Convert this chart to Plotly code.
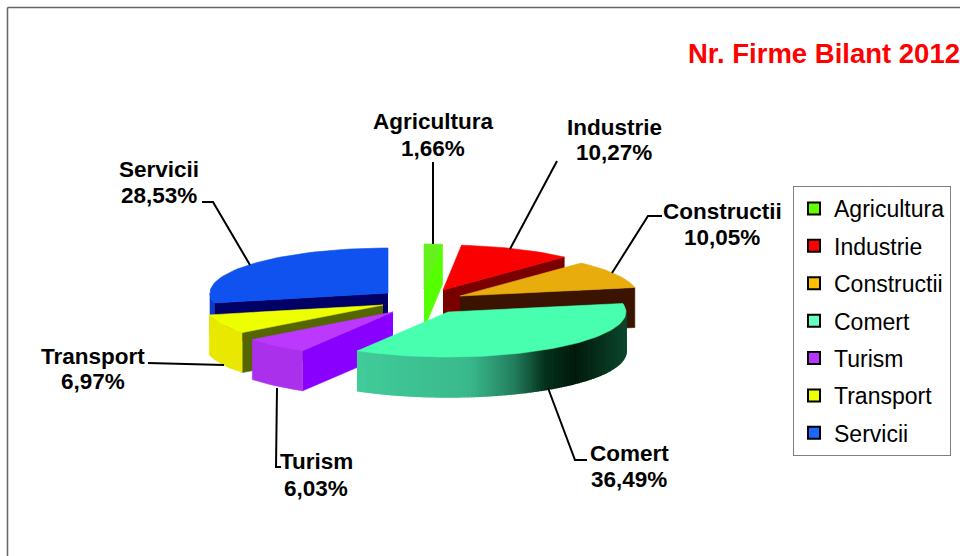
import numpy as np
import plotly.graph_objects as go

# ---- data ----
categories = ["Agricultura", "Industrie", "Constructii", "Comert", "Turism", "Transport", "Servicii"]
percent = [1.66, 10.27, 10.05, 36.49, 6.03, 6.97, 28.53]
percent_labels = ["1,66%", "10,27%", "10,05%", "36,49%", "6,03%", "6,97%", "28,53%"]
title_text = "Nr. Firme Bilant 2012"

# ---- styles ----
top_colors = ["#66F01E", "#FA0000", "#E8AC0C", "#48FFB0", "#BC38FF", "#EEFF00", "#0F52F0"]
legend_colors = ["#66FF00", "#FF0000", "#FFC000", "#66FFC0", "#BB33FF", "#EEFF00", "#1F66FF"]
side_colors = ["#55FF00", "#7A0000", "#3A1400", "#3CC090", "#8A00FF", "#556600", "#000066"]
arc_colors = ["#55FF00", "#7A0000", "#3A1400", None, "#AA30EC", "#E8E800", "#0A3ACC"]
comert_stops_x = [355, 470, 515, 545, 575, 625]
comert_stops_rgb = [(66, 205, 155), (58, 185, 140), (34, 125, 92), (5, 50, 28), (2, 26, 12), (12, 70, 44)]

# ---- geometry of the projected pie (page pixels) ----
RX, RY, DEPTH = 178, 45, 40
apex_x = [424, 443, 460, 448, 393, 383, 388]
apex_y = [289, 290, 296, 312, 312, 305, 293]
draw_order = [6, 0, 1, 2, 5, 4, 3]

label_x = [433, 614, 722, 629, 316, 93, 159]
label_y1 = [121, 127, 211, 453, 461, 356, 169]
label_y2 = [148, 152, 237, 479, 488, 381, 195]
leaders = [
    [(433, 162), (433, 244)],
    [(557, 161), (510, 249)],
    [(662, 216), (648, 216), (612, 273)],
    [(548, 388), (575, 460), (587, 460)],
    [(277, 388), (276, 467), (281, 467)],
    [(148, 363), (224, 365)],
    [(202, 202), (213, 202), (250, 265)],
]

fig = go.Figure()


def poly(xs, ys, color, lw=0.6):
    fig.add_trace(go.Scatter(
        x=list(xs), y=list(ys), mode="lines", fill="toself", fillcolor=color,
        line=dict(color=color, width=lw), hoverinfo="skip", showlegend=False))


def pt(i, deg):
    t = np.radians(deg)
    return apex_x[i] + RX * np.sin(t), apex_y[i] - RY * np.cos(t)


def radial_wall(i, deg, color):
    x, y = pt(i, deg)
    poly([apex_x[i], x, x, apex_x[i]], [apex_y[i], y, y + DEPTH, apex_y[i] + DEPTH], color)


edges = np.concatenate([[0], np.cumsum(percent)]) / sum(percent) * 360

for i in draw_order:
    a0, a1 = edges[i], edges[i + 1]
    # visible flat side faces
    if np.sin(np.radians(a0)) < -1e-6:
        radial_wall(i, a0, side_colors[i])
    if np.sin(np.radians(a1)) > 1e-6:
        radial_wall(i, a1, side_colors[i])
    # visible outer rim
    lo, hi = max(a0, 90), min(a1, 270)
    if hi > lo:
        if arc_colors[i] is None:
            ang = np.linspace(lo, hi, int(hi - lo) + 1)
            for a, b in zip(ang[:-1], ang[1:]):
                xa, ya = pt(i, a)
                xb, yb = pt(i, b)
                mid = (xa + xb) / 2
                rgb = [np.interp(mid, comert_stops_x, [c[k] for c in comert_stops_rgb]) for k in range(3)]
                col = "rgb(%d,%d,%d)" % tuple(rgb)
                poly([xa, xb, xb, xa], [ya, yb, yb + DEPTH, ya + DEPTH], col, lw=1.5)
        else:
            ang = np.linspace(lo, hi, max(2, int((hi - lo) / 2.5)) + 1)
            xs, ys = zip(*[pt(i, a) for a in ang])
            poly(list(xs) + list(xs[::-1]), list(ys) + [y + DEPTH for y in ys[::-1]], arc_colors[i])
    # top face
    ang = np.linspace(a0, a1, max(3, int((a1 - a0) / 2)))
    xs, ys = zip(*[pt(i, a) for a in ang])
    poly([apex_x[i]] + list(xs) + [apex_x[i]], [apex_y[i]] + list(ys) + [apex_y[i]], top_colors[i])

# leader lines
for seg in leaders:
    xs, ys = zip(*seg)
    fig.add_trace(go.Scatter(x=xs, y=ys, mode="lines", line=dict(color="black", width=2),
                             hoverinfo="skip", showlegend=False))

# legend entries
for name, col in zip(categories, legend_colors):
    fig.add_trace(go.Scatter(
        x=[None], y=[None], mode="markers", name=name, legendgroup=name,
        marker=dict(symbol="square", size=12, color=col, line=dict(color="black", width=2))))

ann = []
font = dict(family="Liberation Sans", size=22.5, color="black")
for i, c in enumerate(categories):
    for txt, yy in ((c, label_y1[i]), (percent_labels[i], label_y2[i])):
        ann.append(dict(x=label_x[i], y=yy, xref="x", yref="y", text="<b>%s</b>" % txt,
                        showarrow=False, xanchor="center", yanchor="middle", font=font))

shapes = [
    dict(type="line", x0=7.5, x1=960, y0=7.5, y1=7.5, xref="x", yref="y", line=dict(color="#666666", width=1.5)),
    dict(type="line", x0=7.5, x1=7.5, y0=7.5, y1=556, xref="x", yref="y", line=dict(color="#666666", width=1.5)),
]

fig.update_layout(
    width=960, height=556, margin=dict(l=0, r=0, t=0, b=0),
    paper_bgcolor="white", plot_bgcolor="white",
    xaxis=dict(range=[0, 960], visible=False, fixedrange=True),
    yaxis=dict(range=[556, 0], visible=False, fixedrange=True),
    title=dict(text="<b>%s</b>" % title_text, x=1, xref="paper", xanchor="right",
               y=1 - 53 / 556, yref="paper", yanchor="middle", pad=dict(l=0, r=0, t=0, b=0),
               font=dict(family="Liberation Sans", size=27.5, color="#FF0000")),
    legend=dict(x=793 / 960, y=1 - 186 / 556, xanchor="left", yanchor="top",
                bgcolor="white", bordercolor="#808080", borderwidth=1,
                font=dict(family="Liberation Sans", size=23, color="black"),
                traceorder="grouped", tracegroupgap=4.5, itemclick=False, itemdoubleclick=False),
    annotations=ann, shapes=shapes,
)

fig.write_html("out.html", config=dict(displayModeBar=False),
               post_script="document.body.style.margin='0';document.body.style.overflow='hidden';")
